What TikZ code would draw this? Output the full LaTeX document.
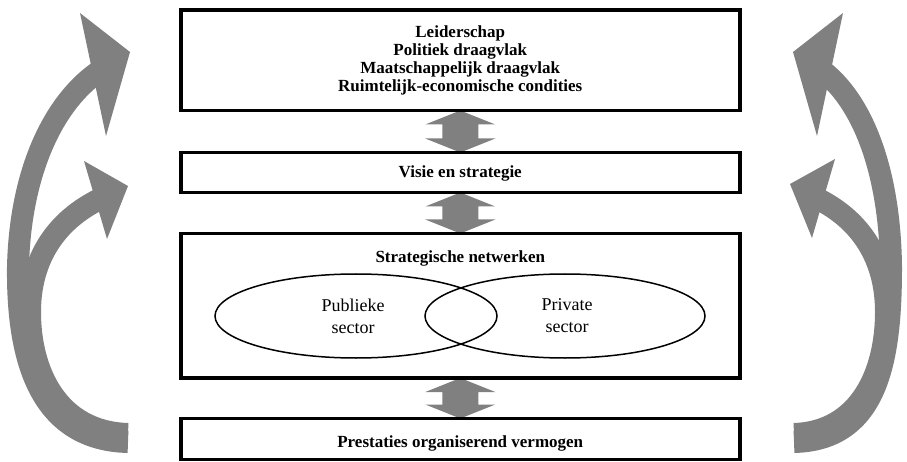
\documentclass[tikz,border=0pt]{standalone}
\usepackage{fontspec}
\setmainfont{Liberation Serif}
\newfontfamily\tnr{Liberation Serif}
\usetikzlibrary{calc,shapes.geometric}
\definecolor{arrowgray}{HTML}{808080}
\pgfdeclarelayer{bg}
\pgfsetlayers{bg,main}
\begin{document}
\begin{tikzpicture}[x=1pt,y=-1pt,
  box/.style={draw=black, line width=3.5pt, rectangle, inner sep=0pt, outer sep=0pt, minimum width=559pt},
  boldlabel/.style={font=\tnr\fontsize{17}{18.2}\selectfont\bfseries, inner sep=0pt, align=center},
  plainlabel/.style={font=\tnr\fontsize{18}{22}\selectfont, inner sep=0pt, align=center},
  venn/.style={draw=black, line width=1.5pt, ellipse, inner sep=0pt, outer sep=0pt, minimum height=84pt},
  dbl/.style={fill=arrowgray, draw=none},
  curve/.style={draw=arrowgray, line width=22pt},
  head/.style={fill=arrowgray, draw=none}
]
\useasboundingbox (0,0) rectangle (907,462);

% boxes
\node[box, minimum height=100.5pt, boldlabel] (lead) at (460.25,60.25)
  {Leiderschap\\Politiek draagvlak\\Maatschappelijk draagvlak\\Ruimtelijk-economische condities};
\node[box, minimum height=40pt] (visie) at (460.25,172.5) {};
\node[box, minimum height=144.5pt] (netw) at (460.25,305.75) {};
\node[box, minimum height=41pt] (prest) at (460.25,439) {};

\node[boldlabel, anchor=base] (visielbl) at (460.25,178) {Visie en strategie};
\node[boldlabel, anchor=base] (netwlbl) at (460.25,262) {Strategische netwerken};
\node[boldlabel, anchor=base] (prestlbl) at (460.25,447) {Prestaties organiserend vermogen};

% Venn ellipses
\node[venn, minimum width=282pt] (pub) at (356,316) {};
\node[venn, minimum width=280pt] (priv) at (565,316) {};
\node[plainlabel] (publbl) at (353,316) {Publieke\\sector};
\node[plainlabel] (privlbl) at (567,316) {Private\\sector};

\begin{pgfonlayer}{bg}
% double arrows between boxes
\foreach \a/\b in {lead/visie, visie/netw, netw/prest}{
  \fill[dbl] (\a.south) -- ++(35,14) -- ++(-17,0) -- ($(\b.north)+(18,-14)$) -- ++(17,0)
    -- (\b.north) -- ++(-35,-14) -- ++(17,0) -- ($(\a.south)+(-18,14)$) -- ++(-17,0) -- cycle;
}
\end{pgfonlayer}

% left curved arrows
\coordinate (tailLbig) at (128,442);
\coordinate (tailLsmall) at (128,434);
\coordinate (endLbig) at (98,72);
\coordinate (endLsmall) at (100,199);
\draw[curve] (tailLbig) .. controls (40,440) and (17,360) .. (18,267)
  .. controls (20,178) and (50,106) .. (endLbig);
\draw[curve] (tailLsmall) .. controls (58,432) and (30,372) .. (30,312)
  .. controls (30,258) and (57,220) .. (endLsmall);
\fill[head] (80,13) -- (130,52) -- (106,136) -- cycle;
\fill[head] (84,161) -- (128,186) -- (107,239) -- cycle;

% right curved arrows
\coordinate (tailRbig) at (794,442);
\coordinate (tailRsmall) at (794,434);
\coordinate (endRbig) at (824,72);
\coordinate (endRsmall) at (818,199);
\draw[curve] (tailRbig) .. controls (878,440) and (891,360) .. (891,267)
  .. controls (890,178) and (866,106) .. (endRbig);
\draw[curve] (tailRsmall) .. controls (860,432) and (886,372) .. (886,312)
  .. controls (886,258) and (860,220) .. (endRsmall);
\fill[head] (843,13) -- (793,52) -- (817,136) -- cycle;
\fill[head] (835,159) -- (790,184) -- (812,238) -- cycle;
\end{tikzpicture}
\end{document}
